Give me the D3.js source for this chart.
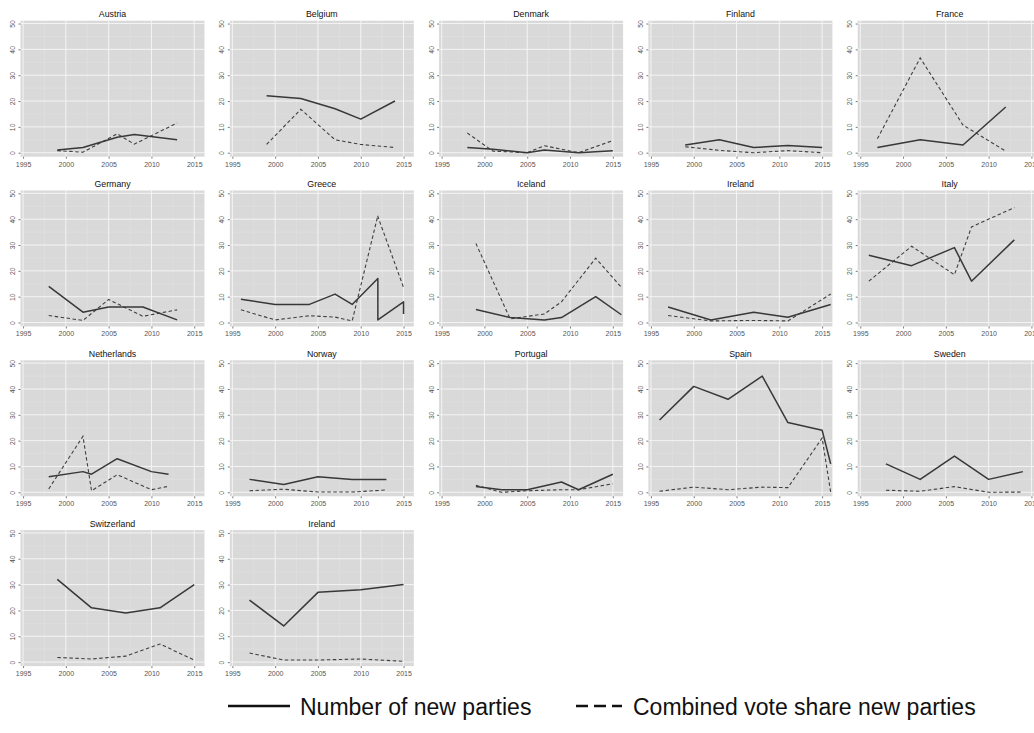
<!DOCTYPE html>
<html>
<head>
<meta charset="utf-8">
<script src="https://cdn.jsdelivr.net/npm/d3@7"></script>
<style>
  html, body { margin: 0; padding: 0; background: #ffffff; }
  svg { display: block; font-family: "Liberation Sans", Arial, sans-serif; }
</style>
</head>
<body>
<svg id="chart" width="1034" height="733"></svg>
<script>
// Panel titles, in reading order
const countries = ["Austria", "Belgium", "Denmark", "Finland", "France",
  "Germany", "Greece", "Iceland", "Ireland", "Italy",
  "Netherlands", "Norway", "Portugal", "Spain", "Sweden",
  "Switzerland", "Ireland"];

// Election years per panel
const electionYears = [
  [1999, 2002, 2006, 2008, 2013],
  [1999, 2003, 2007, 2010, 2014],
  [1998, 2001, 2005, 2007, 2011, 2015],
  [1999, 2003, 2007, 2011, 2015],
  [1997, 2002, 2007, 2012],
  [1998, 2002, 2005, 2009, 2013],
  [1996, 2000, 2004, 2007, 2009, 2012, 2012, 2015, 2015],
  [1999, 2003, 2007, 2009, 2013, 2016],
  [1997, 2002, 2007, 2011, 2016],
  [1996, 2001, 2006, 2008, 2013],
  [1998, 2002, 2003, 2006, 2010, 2012],
  [1997, 2001, 2005, 2009, 2013],
  [1999, 2002, 2005, 2009, 2011, 2015],
  [1996, 2000, 2004, 2008, 2011, 2015, 2016],
  [1998, 2002, 2006, 2010, 2014],
  [1999, 2003, 2007, 2011, 2015],
  [1997, 2001, 2005, 2010, 2015]
];

// Number of new parties (solid line)
const newParties = [
  [1, 2, 6, 7, 5],
  [22, 21, 17, 13, 20],
  [2, 1.3, 0, 1, 0, 0.8],
  [3, 5, 2, 2.8, 2],
  [2, 5, 3, 17.7],
  [14, 4, 6, 6, 1],
  [9, 7, 7, 11, 7, 17, 1, 8, 3.3],
  [5, 1.9, 1, 1.9, 10, 3],
  [6, 1, 4, 2, 7],
  [26, 22, 29, 16, 32],
  [6, 8, 7, 13, 8, 7],
  [5, 3, 6, 5, 5],
  [2.2, 1, 1, 4, 1, 7],
  [28, 41, 36, 45, 27, 24, 11],
  [11, 5, 14, 5, 8],
  [32, 21, 19, 21, 30],
  [24, 14, 27, 28, 30]
];

// Combined vote share of new parties (dashed line)
const voteShare = [
  [0.8, 0.2, 7.3, 3.3, 11.5],
  [3.2, 16.8, 5, 3.2, 2],
  [7.6, 0.6, 0, 2.7, 0, 4.7],
  [2.3, 0.9, 0, 0.8, 0],
  [5.4, 36.7, 10.7, 0.6],
  [2.7, 0.8, 8.9, 2.4, 4.9],
  [4.9, 1, 2.6, 2.1, 0.6, 41.4, 41, 13.6, 13],
  [30.6, 1.4, 3.3, 8, 24.9, 13.6],
  [2.7, 0.6, 0.8, 0.6, 11],
  [16, 29.5, 18.5, 37, 44.5],
  [1.3, 21.7, 0.6, 6.8, 1, 2.3],
  [0.6, 1.2, 0.1, 0.1, 0.9],
  [2.7, 0, 0.6, 1, 1, 3.3],
  [0.4, 2, 1, 2, 1.8, 21, 0],
  [0.8, 0.4, 2.2, 0, 0.1],
  [1.8, 1.2, 2.3, 7, 0.8],
  [3.5, 0.8, 0.8, 1.2, 0.3]
];

const yearTicks = [1995, 2000, 2005, 2010, 2015];
const valueTicks = [0, 10, 20, 30, 40, 50];
const legendLabels = ["Number of new parties", "Combined vote share new parties"];

// Layout
const cols = 5;
const panelW = 184, panelH = 136;
const left0 = 20.5, colStep = 209.3;
const top0 = 20.7, rowStep = 169.8;

const svg = d3.select("#chart");

const x = d3.scaleLinear().domain([1994.7, 2016.2]).range([0, panelW]);
const y = d3.scaleLinear().domain([-1.55, 51.1]).range([panelH, 0]);

const lineGen = d3.line()
  .x(d => x(d[0]))
  .y(d => y(d[1]));

const minorYears = d3.range(1997.5, 2016, 5);
const minorValues = d3.range(5, 51, 10);

countries.forEach((name, i) => {
  const col = i % cols, row = Math.floor(i / cols);
  const g = svg.append("g")
    .attr("transform", `translate(${left0 + col * colStep},${top0 + row * rowStep})`);

  // panel background
  g.append("rect")
    .attr("width", panelW).attr("height", panelH)
    .attr("fill", "#d9d9d9");

  // minor grid
  g.selectAll(".mx").data(minorYears).enter().append("line")
    .attr("x1", d => x(d)).attr("x2", d => x(d))
    .attr("y1", 0).attr("y2", panelH)
    .attr("stroke", "#e2e2e2").attr("stroke-width", 0.5);
  g.selectAll(".my").data(minorValues).enter().append("line")
    .attr("x1", 0).attr("x2", panelW)
    .attr("y1", d => y(d)).attr("y2", d => y(d))
    .attr("stroke", "#e2e2e2").attr("stroke-width", 0.5);

  // major grid
  g.selectAll(".gx").data(yearTicks).enter().append("line")
    .attr("x1", d => x(d)).attr("x2", d => x(d))
    .attr("y1", 0).attr("y2", panelH)
    .attr("stroke", "#f4f4f4").attr("stroke-width", 1);
  g.selectAll(".gy").data(valueTicks).enter().append("line")
    .attr("x1", 0).attr("x2", panelW)
    .attr("y1", d => y(d)).attr("y2", d => y(d))
    .attr("stroke", "#f4f4f4").attr("stroke-width", 1);

  // x axis
  const xAxis = g.append("g")
    .attr("transform", `translate(0,${panelH})`)
    .call(d3.axisBottom(x).tickValues(yearTicks).tickFormat(d3.format("d")).tickSize(2).tickPadding(3));
  xAxis.select(".domain").remove();
  xAxis.selectAll(".tick line").attr("stroke", "#7a7a7a");
  xAxis.selectAll("text").attr("fill", "#555").attr("font-size", 7)
    .attr("font-family", "'Liberation Sans', Arial, sans-serif");

  // y axis with rotated labels
  const yAxis = g.append("g")
    .call(d3.axisLeft(y).tickValues(valueTicks).tickSize(2).tickPadding(2));
  yAxis.select(".domain").remove();
  yAxis.selectAll(".tick line").attr("stroke", "#7a7a7a");
  yAxis.selectAll("text")
    .attr("fill", "#555").attr("font-size", 6.8)
    .attr("font-family", "'Liberation Sans', Arial, sans-serif")
    .attr("text-anchor", "middle")
    .attr("x", null).attr("dy", null)
    .attr("transform", "translate(-5.5,0) rotate(-90)");

  // title
  g.append("text")
    .attr("x", panelW / 2).attr("y", -3.5)
    .attr("text-anchor", "middle")
    .attr("font-size", 8.8).attr("fill", "#111")
    .text(name);

  const yrs = electionYears[i];
  const solid = yrs.map((yr, k) => [yr, newParties[i][k]]);
  const dashed = yrs.map((yr, k) => [yr, voteShare[i][k]]);

  g.append("path").datum(dashed)
    .attr("d", lineGen)
    .attr("fill", "none").attr("stroke", "#3f3f3f")
    .attr("stroke-width", 1.1).attr("stroke-dasharray", "3.5,2.5");

  g.append("path").datum(solid)
    .attr("d", lineGen)
    .attr("fill", "none").attr("stroke", "#383838")
    .attr("stroke-width", 1.5).attr("stroke-linejoin", "round");
});

// Legend
const legend = svg.append("g").attr("transform", "translate(0,706)");
legend.append("line")
  .attr("x1", 228).attr("x2", 290).attr("y1", 0).attr("y2", 0)
  .attr("stroke", "#111").attr("stroke-width", 2.6);
legend.append("text")
  .attr("x", 300).attr("y", 8.5)
  .attr("font-size", 23).attr("fill", "#111")
  .text(legendLabels[0]);
legend.append("line")
  .attr("x1", 576).attr("x2", 622).attr("y1", 0).attr("y2", 0)
  .attr("stroke", "#111").attr("stroke-width", 2.6)
  .attr("stroke-dasharray", "12,6");
legend.append("text")
  .attr("x", 633).attr("y", 8.5)
  .attr("font-size", 23).attr("fill", "#111")
  .text(legendLabels[1]);
</script>
</body>
</html>
